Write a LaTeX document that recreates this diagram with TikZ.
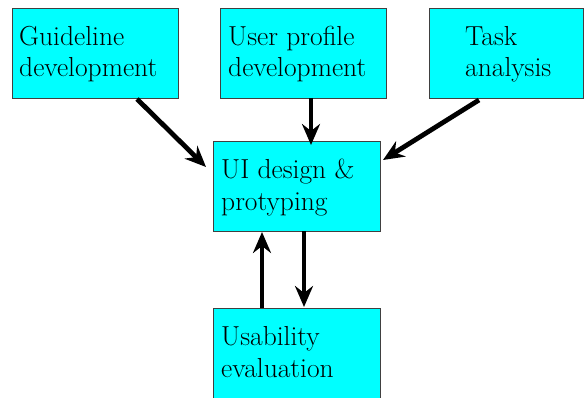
\documentclass[tikz,border=0pt]{standalone}
\usetikzlibrary{arrows.meta}
\begin{document}
\begin{tikzpicture}[x=1pt,y=-1pt,
  boxnode/.style={draw=black!75,line width=0.8pt,fill={rgb,255:red,0;green,255;blue,255},inner sep=0pt,anchor=north west},
  lbl/.style={anchor=base west,inner sep=0pt,font=\fontsize{27.5}{31}\selectfont},
  conn/.style={line width=4.8pt,-{Stealth[length=21pt,width=18pt,inset=7pt]}}]
\useasboundingbox (0,0) rectangle (585,398);
\node[boxnode,minimum width=166pt,minimum height=90pt] (g) at (12,8) {};
\node[boxnode,minimum width=166pt,minimum height=90pt] (u) at (220,8) {};
\node[boxnode,minimum width=154pt,minimum height=90pt] (t) at (429,8) {};
\node[boxnode,minimum width=167pt,minimum height=90pt] (d) at (213,141) {};
\node[boxnode,minimum width=167pt,minimum height=90pt] (e) at (213,308) {};
\node[lbl] (g1) at (19,46) {Guideline};
\node[lbl] (g2) at (19,77) {development};
\node[lbl] (u1) at (228,46) {User profile};
\node[lbl] (u2) at (228,77) {development};
\node[lbl] (t1) at (465,46) {Task};
\node[lbl] (t2) at (465,77) {analysis};
\node[lbl] (d1) at (221,178) {UI design \&};
\node[lbl] (d2) at (221,210) {protyping};
\node[lbl] (e1) at (221,345) {Usability};
\node[lbl] (e2) at (221,377) {evaluation};
\coordinate (a1s) at (137,99);
\coordinate (a1e) at (206,167);
\coordinate (a2s) at (311,98);
\coordinate (a2e) at (311,145);
\coordinate (a3s) at (479,100);
\coordinate (a3e) at (383,160);
\coordinate (a4s) at (262,308);
\coordinate (a4e) at (262,232);
\coordinate (a5s) at (304,231);
\coordinate (a5e) at (304,307);
\draw[conn] (a1s) -- (a1e);
\draw[conn] (a2s) -- (a2e);
\draw[conn] (a3s) -- (a3e);
\draw[conn] (a4s) -- (a4e);
\draw[conn] (a5s) -- (a5e);
\end{tikzpicture}
\end{document}
